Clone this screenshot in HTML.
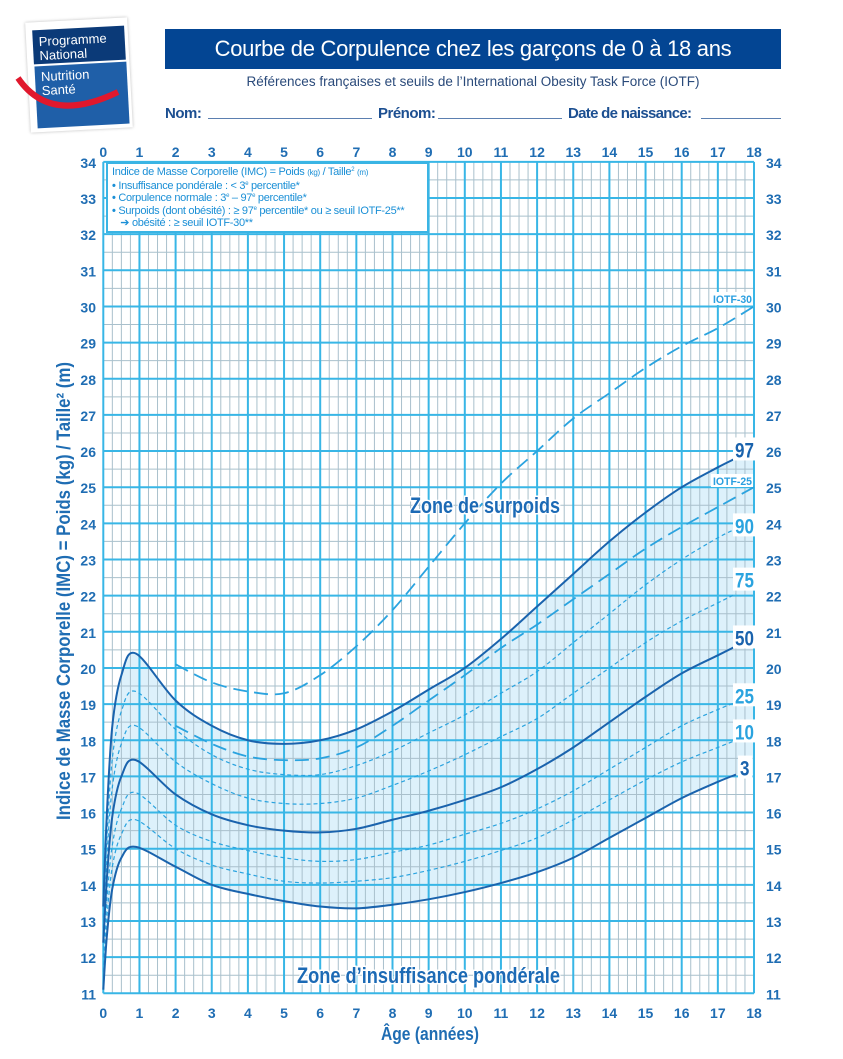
<!DOCTYPE html>
<html><head><meta charset="utf-8">
<style>
body{margin:0;background:#fff;width:843px;height:1059px;overflow:hidden;position:relative;font-family:"Liberation Sans",sans-serif}
.t{position:absolute}
sup{line-height:0;font-size:6px;vertical-align:4px}
</style></head><body>
<!-- logo -->
<div class="t" style="left:28px;top:20px;width:102px;height:110px;background:#fff;transform:rotate(-3deg);box-shadow:0 0 3px #bbb"></div>
<div class="t" style="left:33px;top:28px;width:92px;height:34px;background:#0b3a78;transform:rotate(-3deg);color:#fff;font:13px/14px 'Liberation Sans',sans-serif;padding:5px 0 0 6px;box-sizing:border-box">Programme<br>National</div>
<div class="t" style="left:36px;top:64px;width:92px;height:62px;background:#1f5fa8;transform:rotate(-3deg);color:#fff;font:13px/14px 'Liberation Sans',sans-serif;padding:4px 0 0 6px;box-sizing:border-box">Nutrition<br>Santé</div>
<svg class="t" style="left:0;top:0" width="140" height="140"><path d="M18 78 Q50 125 118 92" stroke="#e0182d" stroke-width="6" fill="none"/></svg>
<!-- title -->
<div class="t" style="left:165px;top:29px;width:616px;height:40px;background:#034593;color:#fff;font:22px/40px 'Liberation Sans',sans-serif;text-align:center;letter-spacing:-0.3px">Courbe de Corpulence chez les garçons de 0 à 18 ans</div>
<div class="t" style="left:165px;top:72px;width:616px;text-align:center;color:#2a4a7a;font:13.5px/20px 'Liberation Sans',sans-serif">Références françaises et seuils de l’International Obesity Task Force (IOTF)</div>
<div class="t" style="left:165px;top:104px;color:#1c4f91;font:bold 15px/20px 'Liberation Sans',sans-serif;letter-spacing:-0.5px">Nom:</div>
<div class="t" style="left:208px;top:118px;width:164px;border-top:1px solid #5b7fb0"></div>
<div class="t" style="left:378px;top:104px;color:#1c4f91;font:bold 15px/20px 'Liberation Sans',sans-serif;letter-spacing:-0.5px">Prénom:</div>
<div class="t" style="left:438px;top:118px;width:124px;border-top:1px solid #5b7fb0"></div>
<div class="t" style="left:568px;top:104px;color:#1c4f91;font:bold 15px/20px 'Liberation Sans',sans-serif;letter-spacing:-0.7px">Date de naissance:</div>
<div class="t" style="left:701px;top:118px;width:80px;border-top:1px solid #5b7fb0"></div>

<svg id="c" class="t" style="left:0;top:0" width="843" height="1059"></svg>

<div class="t" style="left:106px;top:162px;width:323px;height:71px;background:#fff;border:2px solid #3ab4e4;box-sizing:border-box;color:#1a8fd6;font:11px/12.6px 'Liberation Sans',sans-serif;letter-spacing:-0.3px;padding:2px 0 0 4px;white-space:nowrap;overflow:hidden">
Indice de Masse Corporelle (IMC) = Poids <span style="font-size:8px">(kg)</span> / Taille<sup>2</sup> <span style="font-size:8px">(m)</span><br>
<b>•</b> Insuffisance pondérale : &lt; 3<sup>e</sup> percentile*<br>
<b>•</b> Corpulence normale : 3<sup>e</sup> – 97<sup>e</sup> percentile*<br>
<b>•</b> Surpoids (dont obésité) : ≥ 97<sup>e</sup> percentile* ou ≥ seuil IOTF-25**<br>
&nbsp;&nbsp;&nbsp;➔ obésité : ≥ seuil IOTF-30**</div>

<script>
(function(){
const NS="http://www.w3.org/2000/svg",svg=document.getElementById('c');
const X=a=>103.3+36.15*a, Y=v=>993.3-36.15*(v-11);
function el(t,at,txt){const e=document.createElementNS(NS,t);for(const k in at)e.setAttribute(k,at[k]);if(txt!==undefined)e.textContent=txt;svg.appendChild(e);return e;}
function path(pts){let p=pts.map(q=>[X(q[0]),Y(q[1])]);let d="M"+p[0][0]+" "+p[0][1];
for(let i=0;i<p.length-1;i++){const p0=p[Math.max(i-1,0)],p1=p[i],p2=p[i+1],p3=p[Math.min(i+2,p.length-1)];
d+=" C"+(p1[0]+(p2[0]-p0[0])/6)+" "+(p1[1]+(p2[1]-p0[1])/6)+" "+(p2[0]-(p3[0]-p1[0])/6)+" "+(p2[1]-(p3[1]-p1[1])/6)+" "+p2[0]+" "+p2[1];}return d;}
const ages=[0,0.1,0.25,0.5,0.9,2,3,4,5,6,7,8,9,10,11,12,13,14,15,16,17,17.5];
const mk=a=>ages.map((x,i)=>[x,a[i]]);
const P97=mk([13.4,16,18.4,19.8,20.4,19.1,18.4,18.0,17.9,18.0,18.3,18.8,19.4,20.0,20.8,21.7,22.6,23.5,24.3,25.0,25.55,25.8]);
const P90=mk([13.1,15.3,17.5,18.8,19.35,18.3,17.6,17.2,17.05,17.05,17.3,17.7,18.2,18.7,19.3,19.9,20.7,21.5,22.3,23.0,23.6,23.85]);
const P75=mk([12.8,14.8,16.7,17.9,18.4,17.4,16.8,16.4,16.25,16.25,16.4,16.75,17.15,17.6,18.1,18.6,19.3,20.0,20.7,21.3,21.8,22.05]);
const P50=mk([12.4,14.2,15.9,17.0,17.45,16.5,15.95,15.65,15.5,15.45,15.55,15.8,16.05,16.35,16.7,17.2,17.8,18.5,19.2,19.85,20.35,20.6]);
const P25=mk([12.0,13.6,15.1,16.1,16.55,15.65,15.2,14.95,14.75,14.65,14.7,14.9,15.1,15.4,15.7,16.1,16.6,17.2,17.8,18.4,18.85,19.05]);
const P10=mk([11.6,13.1,14.5,15.4,15.8,15.0,14.55,14.3,14.1,14.05,14.1,14.2,14.4,14.65,14.95,15.3,15.8,16.35,16.9,17.4,17.8,18.0]);
const P3=mk([11.1,12.6,13.9,14.75,15.05,14.5,14.0,13.75,13.55,13.4,13.35,13.45,13.6,13.8,14.05,14.35,14.75,15.3,15.85,16.4,16.85,17.05]);
const ia=[2,3,4,5,6,7,8,9,10,11,12,13,14,15,16,17,18];
const I30=ia.map((x,i)=>[x,[20.1,19.6,19.35,19.3,19.8,20.6,21.6,22.8,24.0,25.1,26.0,26.9,27.6,28.3,28.9,29.4,30.0][i]]);
const I25=ia.map((x,i)=>[x,[18.4,17.9,17.55,17.45,17.5,17.8,18.4,19.1,19.8,20.55,21.2,21.9,22.6,23.3,23.9,24.45,25.0][i]]);
const upper=path(P97), lower=path(P3.slice().reverse());
el('path',{d:upper+" L"+X(18)+" "+Y(25.8)+" L"+X(18)+" "+Y(17.05)+" L"+X(17.5)+" "+Y(17.05)+lower.replace(/^M[^C]*/," ")+"Z",fill:"#ddf1fb"});
for(let a=0;a<=72;a++){const x=X(a/4);if(a%4)el('line',{x1:x,y1:Y(34),x2:x,y2:Y(11),stroke:"#a9c0cc","stroke-width":1});}
for(let v=0;v<=46;v++){const y=Y(11+v/2);if(v%2)el('line',{x1:X(0),y1:y,x2:X(18),y2:y,stroke:"#a9c0cc","stroke-width":1});}
for(let a=0;a<=18;a++)el('line',{x1:X(a),y1:Y(34),x2:X(a),y2:Y(11),stroke:"#38b6e6","stroke-width":2});
for(let v=11;v<=34;v++)el('line',{x1:X(0),y1:Y(v),x2:X(18),y2:Y(v),stroke:"#38b6e6","stroke-width":2});
const dk="#1a63ad",lt="#2aa3df";
[P90,P75,P25,P10].forEach(c=>el('path',{d:path(c),fill:"none",stroke:lt,"stroke-width":1.2,"stroke-dasharray":"4 3"}));
[I30,I25].forEach(c=>el('path',{d:path(c),fill:"none",stroke:lt,"stroke-width":1.8,"stroke-dasharray":"14 7"}));
[P97,P50,P3].forEach(c=>el('path',{d:path(c),fill:"none",stroke:dk,"stroke-width":2}));
const tf="font-family:'Liberation Sans',sans-serif;font-weight:bold;";
for(let a=0;a<=18;a++){el('text',{x:X(a),y:157,"text-anchor":"middle",style:tf+"font-size:14px",fill:"#1f6db3"},a);el('text',{x:X(a),y:1018,"text-anchor":"middle",style:tf+"font-size:14px",fill:"#1f6db3"},a);}
for(let v=11;v<=34;v++){el('text',{x:96,y:Y(v)+6,"text-anchor":"end",style:tf+"font-size:14px",fill:"#1f6db3"},v);el('text',{x:766,y:Y(v)+6,style:tf+"font-size:14px",fill:"#1f6db3"},v);}
function lab(txt,x,y,col,fs){const w=txt.length*fs*0.5+4;el('rect',{x:x-2,y:y-fs+1,width:w,height:fs+2,fill:"#fff"});el('text',{x:x,y:y,style:"font-family:'Liberation Sans',sans-serif;font-weight:bold;font-size:"+fs+"px",fill:col,textLength:txt.length*fs*0.45,lengthAdjust:"spacingAndGlyphs"},txt);}
lab("97",735,Y(25.85)+1,dk,21);lab("90",735,Y(23.75)+1,lt,21);lab("75",735,Y(22.25)+1,lt,21);lab("50",735,Y(20.65)+1,dk,21);
lab("25",735,Y(19.05)+1,lt,21);lab("10",735,Y(18.05)+1,lt,21);lab("3",740,Y(17.05)+1,dk,21);
el('rect',{x:711,y:292,width:42,height:13,fill:"#fff"});el('text',{x:713,y:303,style:tf+"font-size:11px",fill:"#2a9fe0",textLength:39,lengthAdjust:"spacingAndGlyphs"},"IOTF-30");
el('rect',{x:711,y:474,width:42,height:13,fill:"#fff"});el('text',{x:713,y:485,style:tf+"font-size:11px",fill:"#2a9fe0",textLength:39,lengthAdjust:"spacingAndGlyphs"},"IOTF-25");
const zs=tf+"font-size:22px;paint-order:stroke;stroke:#fff;stroke-width:3px";
el('text',{x:410,y:513,style:zs,fill:"#1c6ab5",textLength:150,lengthAdjust:"spacingAndGlyphs"},"Zone de surpoids");
el('text',{x:297,y:983,style:zs,fill:"#1c6ab5",textLength:263,lengthAdjust:"spacingAndGlyphs"},"Zone d’insuffisance pondérale");
el('text',{x:381,y:1040,style:tf+"font-size:18px",fill:"#1f6db3",textLength:98,lengthAdjust:"spacingAndGlyphs"},"Âge (années)");
el('text',{x:0,y:0,transform:"translate(70,820) rotate(-90)",style:tf+"font-size:19px",fill:"#1f6db3",textLength:458,lengthAdjust:"spacingAndGlyphs"},"Indice de Masse Corporelle (IMC) = Poids (kg) / Taille² (m)");
})();
</script>
</body></html>
